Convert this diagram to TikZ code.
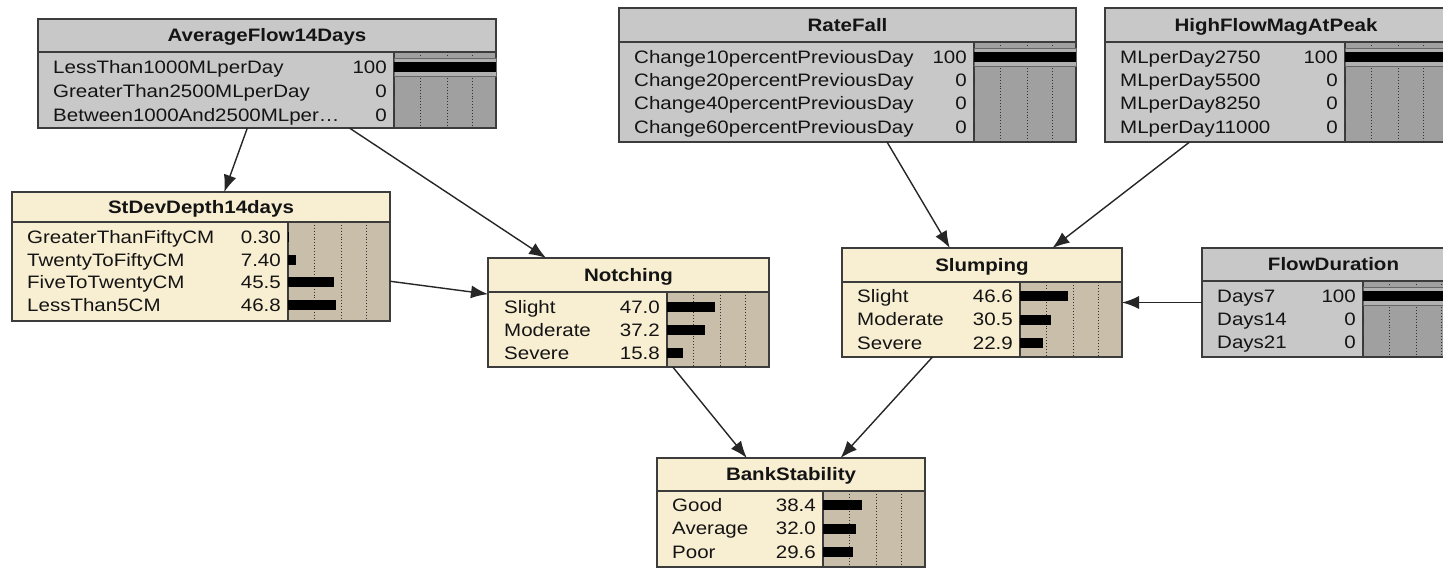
\documentclass[tikz,border=0pt]{standalone}
\usepackage{fontspec}
\setmainfont{Liberation Sans}[FakeStretch=1.14]
\usetikzlibrary{arrows.meta}

\definecolor{bnEvidenceColor}{RGB}{200,200,200}
\definecolor{bnEvidenceBarColor}{RGB}{160,160,160}
\definecolor{bnBeliefColor}{RGB}{248,238,210}
\definecolor{bnBeliefBarColor}{RGB}{200,190,170}
\definecolor{bnLineColor}{RGB}{60,60,60}

\begin{document}
\begin{tikzpicture}[x=1pt, y=-1pt]
  \tikzset{
    bnbox/.style={draw=bnLineColor, line width=1.5pt, inner sep=0pt, outer sep=0pt},
    evid/.style={bnbox, fill=bnEvidenceColor},
    belief/.style={bnbox, fill=bnBeliefColor},
    evidbars/.style={fill=bnEvidenceBarColor, draw=bnLineColor, line width=1.5pt},
    beliefbars/.style={fill=bnBeliefBarColor, draw=bnLineColor, line width=1.5pt},
    sepline/.style={draw=bnLineColor, line width=1.5pt},
    ttl/.style={anchor=base, inner sep=0pt, font=\fontsize{18}{20}\selectfont\bfseries, text=black!92},
    lbl/.style={anchor=base west, inner sep=0pt, font=\fontsize{18}{20}\selectfont, text=black!92},
    val/.style={anchor=base east, inner sep=0pt, font=\fontsize{18}{20}\selectfont, text=black!92},
    gridline/.style={draw=black!80, dotted, line width=0.9pt},
    hilite/.style={fill=gray!62, draw=black!60, line width=0.8pt},
    link/.style={-{Latex[length=17pt,width=13pt]}, line width=1.4pt, draw=black!85},
  }
  \clip (0,0) rectangle (1443,568);

  % AverageFlow14Days
  \node[evid, minimum width=458pt, minimum height=109pt] (avgflow) at (267,73.5) {};
  \filldraw[evidbars] (394,52) rectangle (496,128);
  \draw[sepline] (38,52) -- (496,52);
  \node[ttl] at (267,41.8) {AverageFlow14Days};
  \foreach \x in {26,52,77} \draw[gridline] ({394+1.02*\x},52) -- ({394+1.02*\x},128);
  \filldraw[hilite] (394,58) rectangle (496,76);
  \foreach \lab/\val [count=\i, evaluate=\i as \ry using 67+24*(\i-1)] in
      {LessThan1000MLperDay/100, GreaterThan2500MLperDay/0, Between1000And2500MLper\ldots/0} {
    \node[lbl] at (53,{\ry+6.3}) {\lab};
    \node[val] at (387,{\ry+6.3}) {\val};
    \fill[black] (394,{\ry-5}) rectangle ({394+1.02*\val},{\ry+5});
  }

  % StDevDepth14days
  \node[belief, minimum width=378pt, minimum height=129pt] (stdev) at (201,256.5) {};
  \filldraw[beliefbars] (288,222) rectangle (390,321);
  \draw[sepline] (12,222) -- (390,222);
  \node[ttl] at (201,213.3) {StDevDepth14days};
  \foreach \x in {26,52,77} \draw[gridline] ({288+1.02*\x},222) -- ({288+1.02*\x},321);
  \foreach \lab/\val [count=\i, evaluate=\i as \ry using 237+22.7*(\i-1)] in
      {GreaterThanFiftyCM/0.30, TwentyToFiftyCM/7.40, FiveToTwentyCM/45.5, LessThan5CM/46.8} {
    \node[lbl] at (27,{\ry+6.3}) {\lab};
    \node[val] at (281,{\ry+6.3}) {\val};
    \fill[black] (288,{\ry-5}) rectangle ({288+1.02*\val},{\ry+5});
  }

  % Notching
  \node[belief, minimum width=281pt, minimum height=109pt] (notching) at (628.5,312.5) {};
  \filldraw[beliefbars] (667,292) rectangle (769,367);
  \draw[sepline] (488,292) -- (769,292);
  \node[ttl] at (628.5,281.3) {Notching};
  \foreach \x in {26,52,77} \draw[gridline] ({667+1.02*\x},292) -- ({667+1.02*\x},367);
  \foreach \lab/\val [count=\i, evaluate=\i as \ry using 307+23*(\i-1)] in
      {Slight/47.0, Moderate/37.2, Severe/15.8} {
    \node[lbl] at (504,{\ry+6.3}) {\lab};
    \node[val] at (660,{\ry+6.3}) {\val};
    \fill[black] (667,{\ry-5}) rectangle ({667+1.02*\val},{\ry+5});
  }

  % Slumping
  \node[belief, minimum width=280pt, minimum height=109pt] (slumping) at (982,302.5) {};
  \filldraw[beliefbars] (1020,282) rectangle (1122,357);
  \draw[sepline] (842,282) -- (1122,282);
  \node[ttl] at (982,271.3) {Slumping};
  \foreach \x in {26,52,77} \draw[gridline] ({1020+1.02*\x},282) -- ({1020+1.02*\x},357);
  \foreach \lab/\val [count=\i, evaluate=\i as \ry using 296+23.5*(\i-1)] in
      {Slight/46.6, Moderate/30.5, Severe/22.9} {
    \node[lbl] at (857,{\ry+6.3}) {\lab};
    \node[val] at (1013,{\ry+6.3}) {\val};
    \fill[black] (1020,{\ry-5}) rectangle ({1020+1.02*\val},{\ry+5});
  }

  % FlowDuration
  \node[evid, minimum width=263pt, minimum height=109pt] (flowdur) at (1333.5,302.5) {};
  \filldraw[evidbars] (1363,281) rectangle (1465,357);
  \draw[sepline] (1202,281) -- (1465,281);
  \node[ttl] at (1333.5,270.8) {FlowDuration};
  \foreach \x in {26,52,77} \draw[gridline] ({1363+1.02*\x},281) -- ({1363+1.02*\x},357);
  \filldraw[hilite] (1363,287) rectangle (1465,305);
  \foreach \lab/\val [count=\i, evaluate=\i as \ry using 296+23*(\i-1)] in
      {Days7/100, Days14/0, Days21/0} {
    \node[lbl] at (1217,{\ry+6.3}) {\lab};
    \node[val] at (1356,{\ry+6.3}) {\val};
    \fill[black] (1363,{\ry-5}) rectangle ({1363+1.02*\val},{\ry+5});
  }

  % RateFall
  \node[evid, minimum width=457pt, minimum height=134pt] (ratefall) at (847.5,75) {};
  \filldraw[evidbars] (974,42) rectangle (1076,142);
  \draw[sepline] (619,42) -- (1076,42);
  \node[ttl] at (847.5,31.3) {RateFall};
  \foreach \x in {26,52,77} \draw[gridline] ({974+1.02*\x},42) -- ({974+1.02*\x},142);
  \filldraw[hilite] (974,48) rectangle (1076,66);
  \foreach \lab/\val [count=\i, evaluate=\i as \ry using 57+23.3*(\i-1)] in
      {Change10percentPreviousDay/100, Change20percentPreviousDay/0,
       Change40percentPreviousDay/0, Change60percentPreviousDay/0} {
    \node[lbl] at (634,{\ry+6.3}) {\lab};
    \node[val] at (967,{\ry+6.3}) {\val};
    \fill[black] (974,{\ry-5}) rectangle ({974+1.02*\val},{\ry+5});
  }

  % HighFlowMagAtPeak
  \node[evid, minimum width=342pt, minimum height=134pt] (highflow) at (1276,75) {};
  \filldraw[evidbars] (1345,42) rectangle (1447,142);
  \draw[sepline] (1105,42) -- (1447,42);
  \node[ttl] at (1276,31.3) {HighFlowMagAtPeak};
  \foreach \x in {26,52,77} \draw[gridline] ({1345+1.02*\x},42) -- ({1345+1.02*\x},142);
  \filldraw[hilite] (1345,48) rectangle (1447,66);
  \foreach \lab/\val [count=\i, evaluate=\i as \ry using 57+23.3*(\i-1)] in
      {MLperDay2750/100, MLperDay5500/0, MLperDay8250/0, MLperDay11000/0} {
    \node[lbl] at (1120,{\ry+6.3}) {\lab};
    \node[val] at (1338,{\ry+6.3}) {\val};
    \fill[black] (1345,{\ry-5}) rectangle ({1345+1.02*\val},{\ry+5});
  }

  % BankStability
  \node[belief, minimum width=268pt, minimum height=109pt] (bankstab) at (791,512.5) {};
  \filldraw[beliefbars] (823,491) rectangle (925,567);
  \draw[sepline] (657,491) -- (925,491);
  \node[ttl] at (791,480.8) {BankStability};
  \foreach \x in {26,52,77} \draw[gridline] ({823+1.02*\x},491) -- ({823+1.02*\x},567);
  \foreach \lab/\val [count=\i, evaluate=\i as \ry using 505+23.5*(\i-1)] in
      {Good/38.4, Average/32.0, Poor/29.6} {
    \node[lbl] at (672,{\ry+6.3}) {\lab};
    \node[val] at (816,{\ry+6.3}) {\val};
    \fill[black] (823,{\ry-5}) rectangle ({823+1.02*\val},{\ry+5});
  }

  % links
  \draw[link] (avgflow) -- (stdev);
  \draw[link] (avgflow) -- (notching);
  \draw[link] (stdev) -- (notching);
  \draw[link] (ratefall) -- (slumping);
  \draw[link] (highflow) -- (slumping);
  \draw[link] (flowdur) -- (slumping);
  \draw[link] (notching) -- (bankstab);
  \draw[link] (slumping) -- (bankstab);
\end{tikzpicture}
\end{document}
